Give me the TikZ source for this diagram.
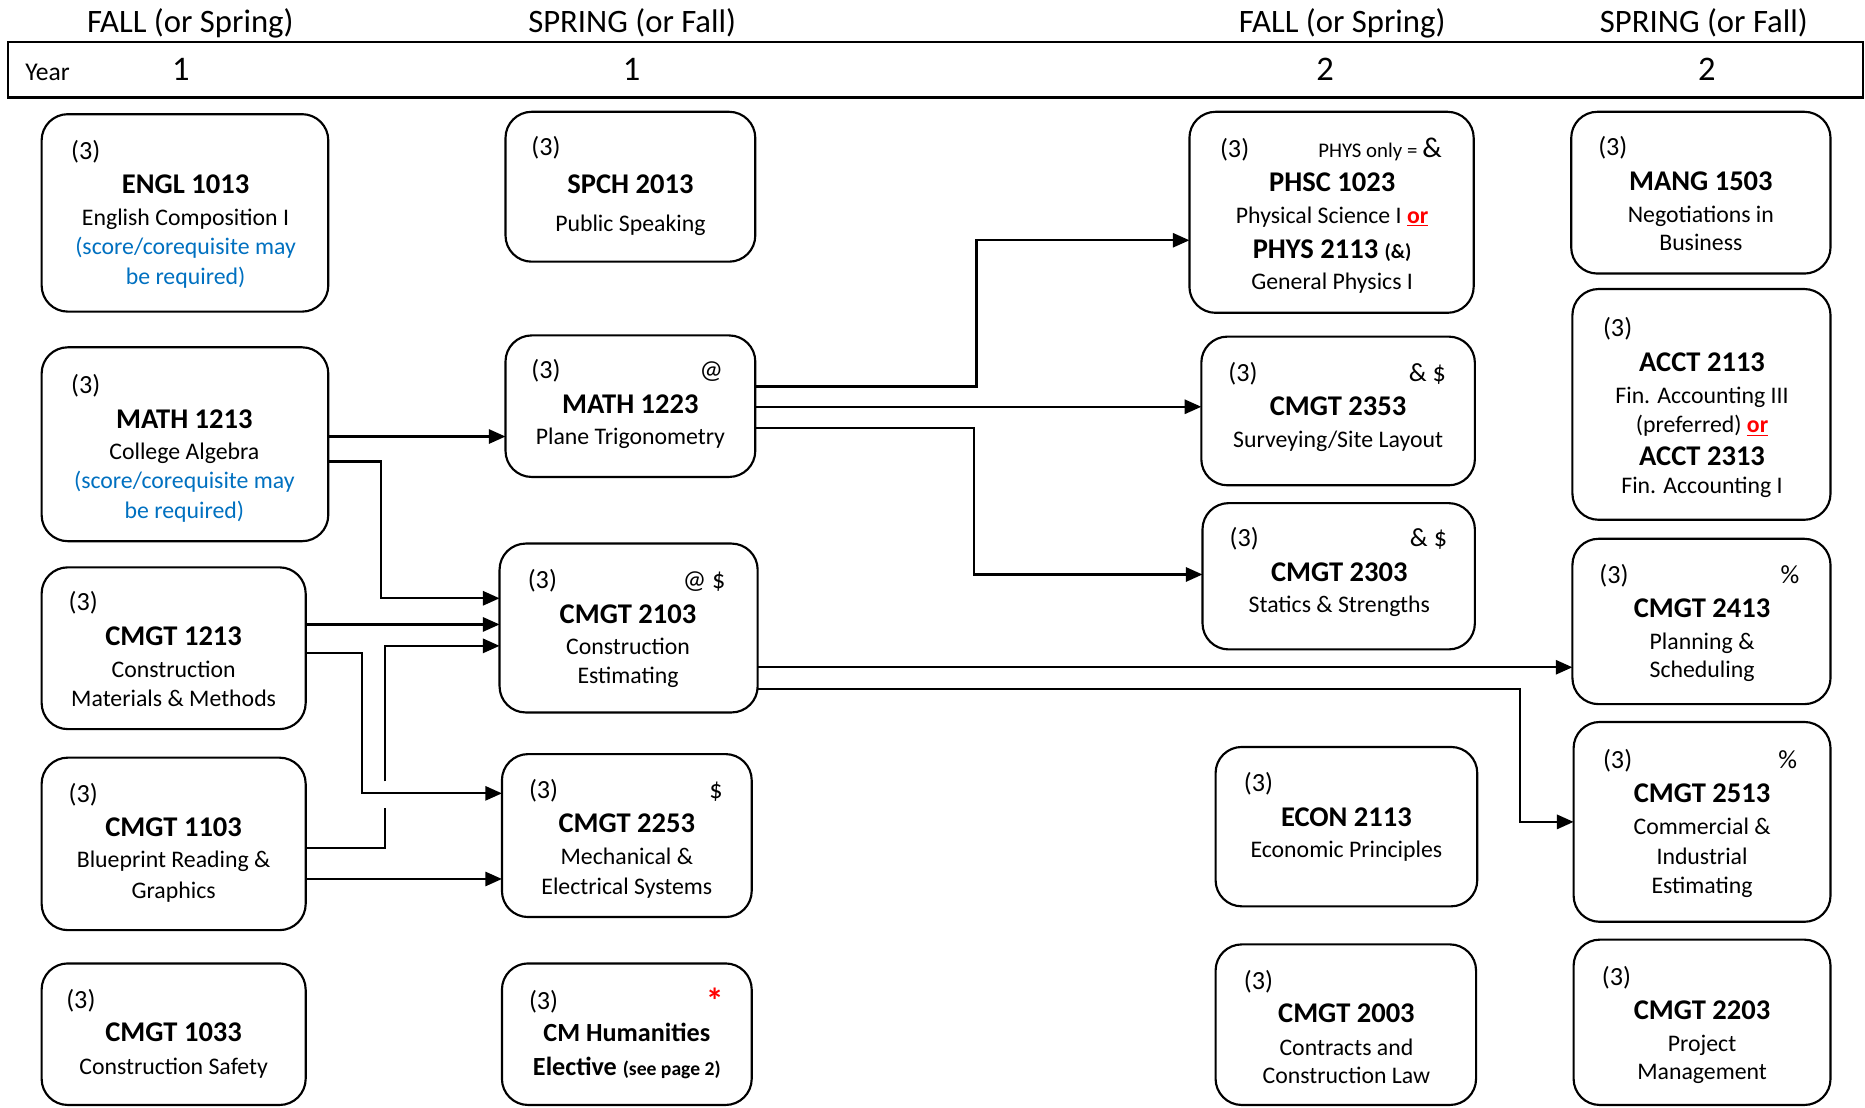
\documentclass[tikz,border=0pt]{standalone}
\usepackage{fontspec}
\setmainfont{Carlito}
\usetikzlibrary{arrows.meta}
\definecolor{reqblue}{HTML}{0070C0}
\definecolor{orred}{HTML}{FF0000}
\tikzset{
 cbox/.style={draw, line width=1.8pt, rounded corners=22pt, inner sep=0pt, outer sep=0pt},
 arr/.style={line width=1.8pt, -{Triangle[length=14pt,width=12pt]}},
 tx/.style={inner sep=0pt, anchor=base},
 cr/.style={tx, font=\fontsize{22}{24}\selectfont, yshift=-7.5pt},
 sy/.style={tx, font=\fontsize{22}{24}\selectfont, yshift=-7.5pt},
 ds/.style={tx, font=\fontsize{20}{24}\selectfont, yshift=-7pt},
 cd/.style={tx, font=\fontsize{24}{28}\selectfont\bfseries, yshift=-8pt},
 hd/.style={tx, font=\fontsize{27.5}{30}\selectfont, yshift=-9pt},
 yr/.style={tx, font=\fontsize{29}{32}\selectfont, yshift=-10pt},
}
\newcommand\orword{\textcolor{orred}{\textbf{\underline{or}}}}
\newcommand\cbx[5]{\node[cbox, minimum width=#4pt, minimum height=#5pt] (#1) at (#2,#3) {};}
\begin{document}
\begin{tikzpicture}[x=1pt,y=-1pt]
\useasboundingbox (0,0) rectangle (1568,931);
% header
\node[hd] (h1) at (160,18) {FALL (or Spring)};
\node[hd] (h2) at (531.5,18) {SPRING (or Fall)};
\node[hd] (h3) at (1128.5,18) {FALL (or Spring)};
\node[hd] (h4) at (1432.5,18) {SPRING (or Fall)};
\node[draw, line width=1.8pt, minimum width=1559pt, minimum height=47pt, inner sep=0pt] (band) at (786.5,58.5) {};
\node[tx, font=\fontsize{21.5}{25}\selectfont, yshift=-7pt] (yearlbl) at (40,61) {Year};
\node[yr] (y1) at (152,58) {1};
\node[yr] (y2) at (531,58) {1};
\node[yr] (y3) at (1114,58) {2};
\node[yr] (y4) at (1435,58) {2};
% boxes
\cbx{engl}{155.5}{179}{241}{166}
\cbx{spch}{530}{157}{210}{126}
\cbx{ma1213}{155.5}{373.5}{241}{163}
\cbx{ma1223}{530}{341.5}{210}{119}
\cbx{c1213}{146}{545}{222}{136}
\cbx{c1103}{146}{709.5}{222}{145}
\cbx{c1033}{146}{869.5}{222}{119}
\cbx{c2103}{528.5}{528}{217}{142}
\cbx{c2253}{527}{702.5}{210}{137}
\cbx{cmhum}{527}{869.5}{210}{119}
\cbx{phsc}{1119.5}{178.5}{239}{169}
\cbx{c2353}{1125}{345.5}{230}{125}
\cbx{c2303}{1125.5}{484.5}{229}{123}
\cbx{econ}{1132}{695}{220}{134}
\cbx{c2003}{1131.5}{861.5}{219}{135}
\cbx{mang}{1430}{162}{218}{136}
\cbx{acct}{1430.5}{340}{217}{194}
\cbx{c2413}{1430.5}{522.5}{217}{139}
\cbx{c2513}{1431}{691}{216}{168}
\cbx{c2203}{1431}{859.5}{216}{139}
% ENGL
\node[cr] (engl-cr) at (72,127) {(3)};
\node[cd] (engl-cd) at (156,155) {ENGL 1013};
\node[ds] (engl-d1) at (156,183) {English Composition I};
\node[ds,text=reqblue] (engl-d2) at (156,207) {(score/corequisite may};
\node[ds,text=reqblue] (engl-d3) at (156,232) {be required)};
% SPCH
\node[cr] (spch-cr) at (459,123) {(3)};
\node[cd] (spch-cd) at (530,155) {SPCH 2013};
\node[ds] (spch-d1) at (530,188) {Public Speaking};
% MATH 1213
\node[cr] (m13-cr) at (72,323) {(3)};
\node[cd] (m13-cd) at (155,352) {MATH 1213};
\node[ds] (m13-d1) at (155,379) {College Algebra};
\node[ds,text=reqblue] (m13-d2) at (155,404) {(score/corequisite may};
\node[ds,text=reqblue] (m13-d3) at (155,429) {be required)};
% MATH 1223
\node[cr] (m23-cr) at (459,311) {(3)};
\node[sy] (m23-sy) at (598,311) {@};
\node[cd] (m23-cd) at (530,340) {MATH 1223};
\node[ds] (m23-d1) at (530,367) {Plane Trigonometry};
% CMGT 1213
\node[cr] (c1213-cr) at (70,506) {(3)};
\node[cd] (c1213-cd) at (146,535) {CMGT 1213};
\node[ds] (c1213-d1) at (146,563) {Construction};
\node[ds] (c1213-d2) at (146,587) {Materials \& Methods};
% CMGT 1103
\node[cr] (c1103-cr) at (70,667) {(3)};
\node[cd] (c1103-cd) at (146,695) {CMGT 1103};
\node[ds] (c1103-d1) at (146,722) {Blueprint Reading \&};
\node[ds] (c1103-d2) at (146,748) {Graphics};
% CMGT 1033
\node[cr] (c1033-cr) at (68,840) {(3)};
\node[cd] (c1033-cd) at (146,868) {CMGT 1033};
\node[ds] (c1033-d1) at (146,896) {Construction Safety};
% CMGT 2103
\node[cr] (c2103-cr) at (456,487) {(3)};
\node[sy] (c2103-sy) at (592,487) {@ \$};
\node[cd] (c2103-cd) at (528,516) {CMGT 2103};
\node[ds] (c2103-d1) at (528,543) {Construction};
\node[ds] (c2103-d2) at (528,568) {Estimating};
% CMGT 2253
\node[cr] (c2253-cr) at (457,664) {(3)};
\node[sy] (c2253-sy) at (602,664) {\$};
\node[cd] (c2253-cd) at (527,692) {CMGT 2253};
\node[ds] (c2253-d1) at (527,720) {Mechanical \&};
\node[ds] (c2253-d2) at (527,745) {Electrical Systems};
% CM Humanities
\node[cr] (hum-cr) at (457,841) {(3)};
\node[tx, text=orred, font=\fontsize{30}{30}\selectfont\bfseries, yshift=-16pt] (hum-sy) at (601,836) {*};
\node[tx, font=\fontsize{22}{26}\selectfont\bfseries, yshift=-7pt] (hum-cd) at (527,869) {CM Humanities};
\node[tx, font=\fontsize{22}{26}\selectfont\bfseries, yshift=-7pt] (hum-d1) at (527,897) {Elective {\fontsize{16.5}{20}\selectfont (see page 2)}};
% PHSC
\node[cr] (phsc-cr) at (1038,125) {(3)};
\node[tx, font=\fontsize{17.5}{20}\selectfont, yshift=-6pt] (phsc-sy) at (1150,126) {PHYS only =};
\node[tx, font=\fontsize{24}{24}\selectfont, yshift=-8.5pt] (phsc-amp) at (1204,124) {\&};
\node[cd] (phsc-cd) at (1120,153) {PHSC 1023};
\node[ds] (phsc-d1) at (1120,181) {Physical Science I \orword};
\node[cd] (phsc-cd2) at (1120,209) {PHYS 2113 {\fontsize{17}{20}\selectfont (\&)}};
\node[ds] (phsc-d2) at (1120,236) {General Physics I};
% CMGT 2353
\node[cr] (c2353-cr) at (1045,313) {(3)};
\node[sy] (c2353-sy) at (1200,313) {\& \$};
\node[cd] (c2353-cd) at (1125,341) {CMGT 2353};
\node[ds] (c2353-d1) at (1125,369) {Surveying/Site Layout};
% CMGT 2303
\node[cr] (c2303-cr) at (1046,452) {(3)};
\node[sy] (c2303-sy) at (1201,452) {\& \$};
\node[cd] (c2303-cd) at (1126,481) {CMGT 2303};
\node[ds] (c2303-d1) at (1126,508) {Statics \& Strengths};
% ECON
\node[cr] (econ-cr) at (1058,658) {(3)};
\node[cd] (econ-cd) at (1132,687) {ECON 2113};
\node[ds] (econ-d1) at (1132,714) {Economic Principles};
% CMGT 2003
\node[cr] (c2003-cr) at (1058,824) {(3)};
\node[cd] (c2003-cd) at (1132,852) {CMGT 2003};
\node[ds] (c2003-d1) at (1132,880) {Contracts and};
\node[ds] (c2003-d2) at (1132,904) {Construction Law};
% MANG
\node[cr] (mang-cr) at (1356,123) {(3)};
\node[cd] (mang-cd) at (1430,152) {MANG 1503};
\node[ds] (mang-d1) at (1430,180) {Negotiations in};
\node[ds] (mang-d2) at (1430,204) {Business};
% ACCT
\node[cr] (acct-cr) at (1360,275) {(3)};
\node[cd] (acct-cd) at (1431,304) {ACCT 2113};
\node[ds] (acct-d1) at (1431,332) {Fin. Accounting III};
\node[ds] (acct-d2) at (1431,357) {(preferred) \orword};
\node[cd] (acct-cd2) at (1431,383) {ACCT 2313};
\node[ds] (acct-d3) at (1431,408) {Fin. Accounting I};
% CMGT 2413
\node[cr] (c2413-cr) at (1357,483) {(3)};
\node[sy] (c2413-sy) at (1505,483) {\%};
\node[cd] (c2413-cd) at (1431,511) {CMGT 2413};
\node[ds] (c2413-d1) at (1431,539) {Planning \&};
\node[ds] (c2413-d2) at (1431,563) {Scheduling};
% CMGT 2513
\node[cr] (c2513-cr) at (1360,639) {(3)};
\node[sy] (c2513-sy) at (1503,639) {\%};
\node[cd] (c2513-cd) at (1431,667) {CMGT 2513};
\node[ds] (c2513-d1) at (1431,695) {Commercial \&};
\node[ds] (c2513-d2) at (1431,720) {Industrial};
\node[ds] (c2513-d3) at (1431,744) {Estimating};
% CMGT 2203
\node[cr] (c2203-cr) at (1359,821) {(3)};
\node[cd] (c2203-cd) at (1431,849) {CMGT 2203};
\node[ds] (c2203-d1) at (1431,877) {Project};
\node[ds] (c2203-d2) at (1431,901) {Management};
% connectors
\draw[arr] (ma1213.east |- 0,367) -- (ma1223.west |- 0,367);
\draw[arr] (ma1213.east |- 0,388) -| (320,503) -- (c2103.west |- 0,503);
\draw[arr] (c1213.east |- 0,525) -- (c2103.west |- 0,525);
\draw[arr] (c1213.east |- 0,549) -| (304,667) -- (c2253.west |- 0,667);
\draw[line width=1.8pt] (c1103.east |- 0,713) -| (324,679);
\draw[arr] (324,657) |- (c2103.west |- 0,543);
\draw[arr] (c1103.east |- 0,739) -- (c2253.west |- 0,739);
\draw[arr] (ma1223.east |- 0,325) -| (821,202) -- (phsc.west |- 0,202);
\draw[arr] (ma1223.east |- 0,342) -- (c2353.west |- 0,342);
\draw[arr] (ma1223.east |- 0,360) -| (819,483) -- (c2303.west |- 0,483);
\draw[arr] (c2103.east |- 0,561) -- (c2413.west |- 0,561);
\draw[arr] (c2103.east |- 0,579) -| (1278,691) -- (c2513.west |- 0,691);
\end{tikzpicture}
\end{document}
